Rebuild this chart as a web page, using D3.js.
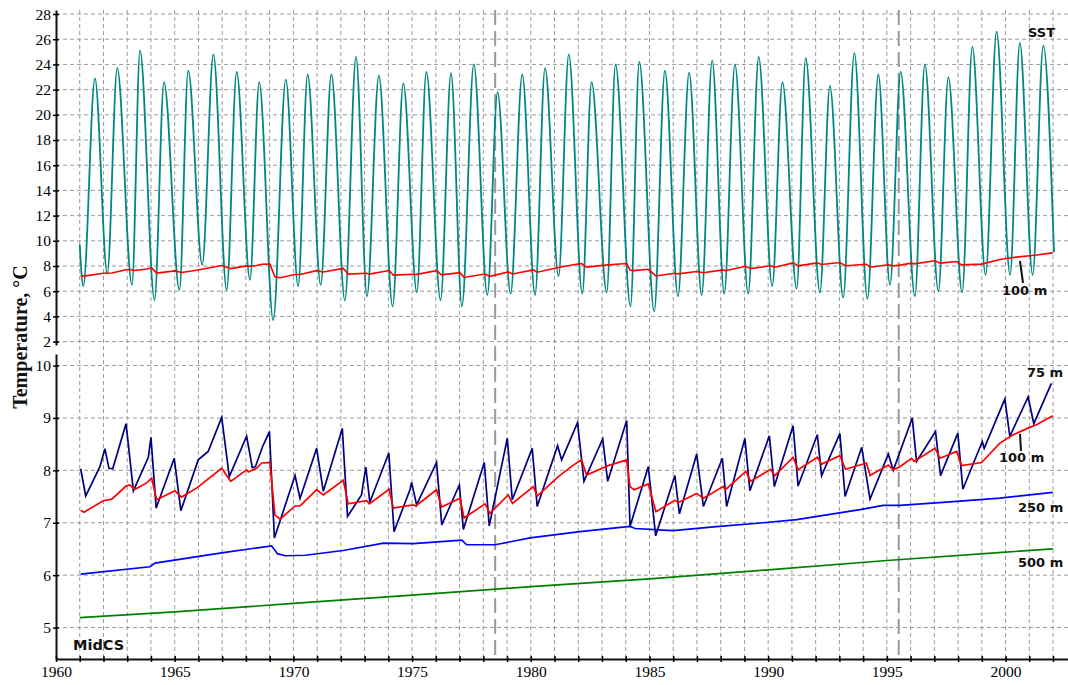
<!DOCTYPE html>
<html>
<head>
<meta charset="utf-8">
<script src="https://cdnjs.cloudflare.com/ajax/libs/d3/7.8.5/d3.min.js"></script>
<style>
  body { margin: 0; background: #fff; }
  svg { display: block; }
  .lbl { font-family: "DejaVu Sans", Verdana, sans-serif; font-weight: bold; fill: #111; }
</style>
</head>
<body>
<svg id="chart" width="1068" height="685"></svg>
<script>
// SST: troughs and peaks (year, degC)
var sstYear = [1961.00, 1961.15, 1961.64, 1962.16, 1962.58, 1963.20, 1963.54, 1964.15, 1964.55, 1965.20, 1965.57,
  1966.16, 1966.63, 1967.19, 1967.61, 1968.17, 1968.56, 1969.15, 1969.68, 1970.20, 1970.60, 1971.15, 1971.60,
  1972.17, 1972.64, 1973.10, 1973.60, 1974.18, 1974.63, 1975.20, 1975.60, 1976.20, 1976.64, 1977.10, 1977.60,
  1978.17, 1978.60, 1979.15, 1979.64, 1980.18, 1980.60, 1981.17, 1981.60, 1982.17, 1982.56, 1983.20, 1983.57,
  1984.20, 1984.57, 1985.20, 1985.65, 1986.20, 1986.67, 1987.20, 1987.64, 1988.15, 1988.60, 1989.16, 1989.60,
  1990.17, 1990.60, 1991.20, 1991.58, 1992.18, 1992.60, 1993.16, 1993.63, 1994.18, 1994.64, 1995.13, 1995.58,
  1996.18, 1996.60, 1997.17, 1997.59, 1998.17, 1998.60, 1999.16, 1999.62, 2000.19, 2000.60, 2001.14, 2001.59, 2002.04];
var sstTemp = [9.7, 6.4, 22.9, 7.4, 23.7, 6.5, 25.1, 5.3, 22.6, 6.1, 23.5,
  8.1, 24.8, 6.1, 23.4, 6.9, 22.6, 3.7, 22.8, 6.4, 23.2, 6.5, 23.2,
  5.25, 24.6, 5.6, 23.1, 4.8, 22.5, 5.9, 23.4, 5.3, 23.3, 4.8, 24.0,
  5.7, 21.8, 5.8, 23.2, 5.7, 23.7, 7.2, 24.8, 5.8, 22.6, 5.9, 24.0,
  4.8, 24.2, 4.4, 23.5, 5.6, 23.35, 5.7, 24.3, 5.8, 24.0, 5.8, 24.6,
  6.4, 22.6, 6.2, 24.5, 5.9, 22.3, 5.5, 24.9, 5.4, 23.2, 6.5, 23.4,
  5.6, 24.0, 6.0, 23.0, 5.9, 25.4, 7.3, 26.6, 7.3, 25.7, 7.3, 25.5, 9.1];

// 75 m
var t75Year = [1961.04, 1961.25, 1961.85, 1962.06, 1962.23, 1962.39, 1962.95, 1963.26, 1963.89, 1964.00, 1964.22,
  1964.98, 1965.26, 1965.99, 1966.41, 1966.98, 1967.30, 1968.03, 1968.27, 1968.40, 1968.70, 1968.99, 1969.20,
  1970.07, 1970.28, 1970.98, 1971.26, 1972.06, 1972.28, 1972.87, 1973.05, 1973.22, 1974.02, 1974.24, 1974.91,
  1974.98, 1975.19, 1976.03, 1976.25, 1976.99, 1977.16, 1978.04, 1978.25, 1979.01, 1979.22, 1980.06, 1980.27,
  1981.13, 1981.30, 1981.97, 1982.24, 1983.03, 1983.24, 1984.04, 1984.18, 1984.95, 1985.26, 1986.07, 1986.26,
  1986.99, 1987.27, 1988.07, 1988.25, 1989.02, 1989.23, 1990.05, 1990.26, 1991.05, 1991.26, 1992.07, 1992.25,
  1993.02, 1993.24, 1993.94, 1994.29, 1995.06, 1995.27, 1996.07, 1996.25, 1997.05, 1997.26, 1997.99, 1998.20,
  1999.02, 1999.10, 1999.97, 2000.18, 2000.95, 2001.19, 2001.93];
var t75Temp = [8.03, 7.51, 8.07, 8.41, 8.04, 8.03, 8.89, 7.61, 8.25, 8.63, 7.28,
  8.23, 7.23, 8.2, 8.36, 9.01, 7.88, 8.65, 8.05, 8.07, 8.45, 8.74, 6.71,
  7.9, 7.46, 8.42, 7.6, 8.8, 7.12, 7.53, 8.06, 7.39, 8.33, 6.83, 7.63,
  7.77, 7.34, 8.15, 6.96, 7.72, 6.87, 8.15, 6.94, 8.61, 7.44, 8.42, 7.31,
  8.47, 8.2, 8.91, 7.79, 8.6, 7.79, 8.95, 6.93, 8.07, 6.75, 7.9, 7.17,
  8.31, 7.31, 8.23, 7.31, 8.61, 7.61, 8.66, 7.69, 8.85, 7.7, 8.68, 7.9,
  8.7, 7.5, 8.44, 7.45, 8.31, 8.0, 9.0, 8.17, 8.74, 7.9, 8.71, 7.64,
  8.55, 8.42, 9.36, 8.65, 9.4, 8.89, 9.66];

// 100 m
var t100Year = [1961.04, 1961.18, 1961.99, 1962.35, 1962.95, 1963.10, 1963.33, 1963.82, 1964.03, 1964.24, 1965.01,
  1965.29, 1965.92, 1966.98, 1967.36, 1968.03, 1968.10, 1968.45, 1968.66, 1969.01, 1969.22, 1969.44, 1970.07,
  1970.28, 1970.98, 1971.26, 1972.10, 1972.31, 1973.08, 1973.20, 1974.03, 1974.21, 1975.05, 1975.15, 1976.03,
  1976.24, 1977.02, 1977.19, 1978.07, 1978.28, 1979.05, 1979.23, 1980.11, 1980.27, 1981.16, 1981.79, 1982.14,
  1982.35, 1983.26, 1984.04, 1984.18, 1984.35, 1984.95, 1985.27, 1986.07, 1986.20, 1986.99, 1987.27, 1988.10,
  1988.20, 1989.06, 1989.26, 1990.10, 1990.28, 1991.05, 1991.26, 1992.07, 1992.25, 1993.02, 1993.26, 1994.14,
  1994.29, 1995.06, 1995.27, 1995.55, 1996.04, 1996.15, 1997.03, 1997.24, 1997.94, 1998.15, 1998.99, 1999.76,
  2000.32, 2001.02, 2001.30, 2001.99];
var t100Temp = [7.24, 7.2, 7.42, 7.45, 7.7, 7.72, 7.64, 7.76, 7.85, 7.44, 7.61,
  7.49, 7.66, 8.04, 7.79, 8.01, 7.97, 8.04, 8.14, 8.15, 7.15, 7.07, 7.32,
  7.32, 7.63, 7.53, 7.81, 7.36, 7.42, 7.36, 7.64, 7.28, 7.34, 7.32, 7.63,
  7.3, 7.47, 7.09, 7.36, 7.18, 7.53, 7.37, 7.69, 7.51, 7.88, 8.1, 8.2,
  7.91, 8.09, 8.2, 7.69, 7.63, 7.74, 7.21, 7.43, 7.38, 7.56, 7.47, 7.69,
  7.63, 7.98, 7.79, 8.02, 7.9, 8.25, 8.01, 8.25, 8.12, 8.28, 8.02, 8.14,
  7.9, 8.1, 8.01, 8.07, 8.23, 8.17, 8.42, 8.23, 8.36, 8.09, 8.15, 8.52,
  8.68, 8.82, 8.87, 9.04];

// 250 m
var t250Year = [1961.04, 1963.96, 1964.17, 1967.05, 1969.08, 1969.33, 1969.65, 1970.50, 1972.10, 1973.80, 1975.05,
  1977.09, 1977.30, 1978.50, 1979.97, 1982.07, 1984.18, 1984.40, 1985.58, 1986.00, 1987.70, 1989.80, 1991.20,
  1993.87, 1994.85, 1995.55, 1997.66, 1999.76, 2001.99];
var t250Temp = [6.02, 6.16, 6.23, 6.43, 6.56, 6.41, 6.37, 6.38, 6.47, 6.61, 6.6,
  6.67, 6.58, 6.58, 6.71, 6.83, 6.93, 6.89, 6.86, 6.85, 6.92, 7.0, 7.06,
  7.25, 7.33, 7.33, 7.4, 7.47, 7.58];

// 500 m
var t500Year = [1961.0, 1965, 1970, 1975, 1980, 1985, 1990, 1995, 2000, 2001.99];
var t500Temp = [5.19, 5.3, 5.46, 5.62, 5.78, 5.93, 6.1, 6.28, 6.44, 6.5];

var topTicks = [2, 4, 6, 8, 10, 12, 14, 16, 18, 20, 22, 24, 26, 28];
var bottomTicks = [5, 6, 7, 8, 9, 10];
var yearTicks = d3.range(1960, 2003);
var markYears = [1978.5, 1995.5];

function zip(xs, ys) {
  return xs.map(function(d, i) { return [d, ys[i]]; });
}

function drawChart() {
  var svg = d3.select("#chart");
  var serif = "'Liberation Serif', 'Times New Roman', serif";

  var x = d3.scaleLinear().domain([1960, 2002.63]).range([56, 1068]);
  var yTop = d3.scaleLinear().domain([1.73, 28.32]).range([345, 10]);
  var yBot = d3.scaleLinear().domain([4.4, 10.22]).range([659, 354]);

  var grid = svg.append("g")
      .attr("stroke", "#9a9a9a")
      .attr("stroke-width", 1)
      .attr("stroke-dasharray", "4,3");

  // vertical grid, both panels
  grid.selectAll(".vg")
      .data(yearTicks.filter(function(d) { return d > 1960; }))
    .enter().append("line")
      .attr("x1", function(d) { return x(d); })
      .attr("x2", function(d) { return x(d); })
      .attr("y1", 10).attr("y2", 659);

  grid.selectAll(".hgt")
      .data(topTicks)
    .enter().append("line")
      .attr("x1", 56).attr("x2", 1068)
      .attr("y1", function(d) { return yTop(d); })
      .attr("y2", function(d) { return yTop(d); });

  grid.selectAll(".hgb")
      .data(bottomTicks)
    .enter().append("line")
      .attr("x1", 56).attr("x2", 1068)
      .attr("y1", function(d) { return yBot(d); })
      .attr("y2", function(d) { return yBot(d); });

  // the two dashed period markers
  svg.selectAll(".mark")
      .data(markYears)
    .enter().append("line")
      .attr("x1", function(d) { return x(d); })
      .attr("x2", function(d) { return x(d); })
      .attr("y1", 10).attr("y2", 659)
      .attr("stroke", "#999")
      .attr("stroke-width", 2)
      .attr("stroke-dasharray", "15,6");

  var lineTop = d3.line()
      .x(function(d) { return x(d[0]); })
      .y(function(d) { return yTop(d[1]); });
  var lineBot = d3.line()
      .x(function(d) { return x(d[0]); })
      .y(function(d) { return yBot(d[1]); });

  // top panel
  svg.append("path")
      .datum(zip(sstYear, sstTemp))
      .attr("fill", "none")
      .attr("stroke", "#008782")
      .attr("stroke-width", 1.8)
      .attr("d", lineTop.curve(d3.curveMonotoneX));
  lineTop.curve(d3.curveLinear);
  svg.append("path")
      .datum(zip(t100Year, t100Temp))
      .attr("fill", "none")
      .attr("stroke", "#ff0000")
      .attr("stroke-width", 1.6)
      .attr("d", lineTop);

  // bottom panel
  var series = [
    {x: t500Year, y: t500Temp, color: "#008000"},
    {x: t250Year, y: t250Temp, color: "#0000ff"},
    {x: t75Year, y: t75Temp, color: "#000080"},
    {x: t100Year, y: t100Temp, color: "#ff0000"}
  ];
  svg.selectAll(".ser")
      .data(series)
    .enter().append("path")
      .attr("fill", "none")
      .attr("stroke", function(d) { return d.color; })
      .attr("stroke-width", 1.7)
      .attr("d", function(d) { return lineBot(zip(d.x, d.y)); });

  // axes
  var axTop = svg.append("g")
      .attr("transform", "translate(56,0)")
      .call(d3.axisLeft(yTop).tickValues(topTicks).tickFormat(d3.format("d"))
        .tickSize(3).tickPadding(2).tickSizeOuter(0));
  var axBot = svg.append("g")
      .attr("transform", "translate(56,0)")
      .call(d3.axisLeft(yBot).tickValues(bottomTicks).tickFormat(d3.format("d"))
        .tickSize(3).tickPadding(2).tickSizeOuter(0));
  var axX = svg.append("g")
      .attr("transform", "translate(0,659)")
      .call(d3.axisBottom(x).tickValues(yearTicks).tickSize(3).tickPadding(4).tickSizeOuter(0)
        .tickFormat(function(d) { return d % 5 == 0 ? d : ""; }));

  [axTop, axBot].forEach(function(g) {
    g.selectAll(".tick line").attr("x1", 3).attr("x2", -3).attr("stroke-width", 1.5);
  });
  axX.selectAll(".tick line").attr("y1", -3).attr("y2", 3).attr("stroke-width", 1.5);
  [axTop, axBot, axX].forEach(function(g) {
    g.attr("font-family", null).attr("font-size", null);
    g.select(".domain").attr("stroke", "#111").attr("stroke-width", 2);
    g.selectAll(".tick text")
        .style("font-family", serif)
        .style("font-size", "15.5px")
        .attr("fill", "#000");
  });

  svg.append("text")
      .attr("transform", "translate(27,337) rotate(-90)")
      .attr("text-anchor", "middle")
      .style("font-family", serif)
      .style("font-weight", "bold")
      .style("font-size", "20px")
      .attr("fill", "#111")
      .text("Temperature, °C");

  // series labels
  var labels = [
    {t: "SST", x: 1028, y: 37, s: 13},
    {t: "100 m", x: 1002, y: 295, s: 13},
    {t: "75 m", x: 1027, y: 377, s: 13},
    {t: "100 m", x: 999, y: 462, s: 13},
    {t: "250 m", x: 1018, y: 512, s: 13},
    {t: "500 m", x: 1018, y: 567, s: 13},
    {t: "MidCS", x: 73, y: 650, s: 14.5}
  ];
  svg.selectAll(".lbl")
      .data(labels)
    .enter().append("text")
      .attr("class", "lbl")
      .attr("x", function(d) { return d.x; })
      .attr("y", function(d) { return d.y; })
      .style("font-size", function(d) { return d.s + "px"; })
      .text(function(d) { return d.t; });

  // leader lines for the 100 m labels
  svg.append("line").attr("x1", 1020).attr("y1", 261).attr("x2", 1023).attr("y2", 283)
      .attr("stroke", "#111").attr("stroke-width", 2);
  svg.append("line").attr("x1", 1020).attr("y1", 434).attr("x2", 1021).attr("y2", 451)
      .attr("stroke", "#111").attr("stroke-width", 2);
}

drawChart();
</script>
</body>
</html>
